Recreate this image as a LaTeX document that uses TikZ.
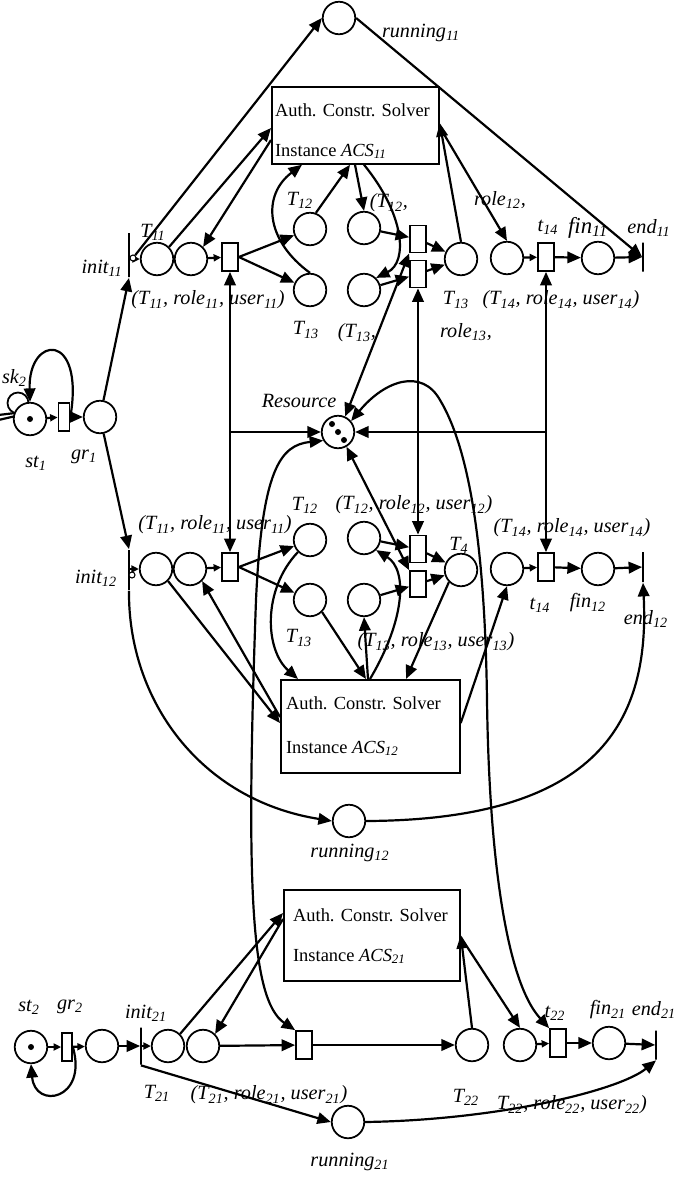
\documentclass[tikz,border=0pt]{standalone}
\usepackage{fontspec}
\setmainfont{Liberation Serif}
\usepackage{tikz}
\usetikzlibrary{
  calc,          % offsets along the solver boxes
  arrows.meta    % Triangle tips
}
\newcommand{\sbs}[1]{\textsubscript{#1}}

\begin{document}
\begin{tikzpicture}[x=0.02cm, y=-0.02cm, line width=1.25pt,
    >={Triangle[length=0.27cm,width=0.23cm]},
    plc/.style={circle, draw, fill=white, line width=1pt, minimum size=0.65cm, inner sep=0pt},
    trn/.style={rectangle, draw, fill=white, line width=1pt, minimum width=0.32cm, minimum height=0.56cm, inner sep=0pt},
    gate/.style={rectangle, draw, line width=1pt, minimum width=0pt, inner sep=0pt},
    tokn/.style={circle, fill=black, minimum size=0.12cm, inner sep=0pt},
    inh/.style={circle, draw, fill=white, line width=0.6pt, minimum size=0.12cm, inner sep=0pt},
    acs/.style={rectangle, draw, line width=1pt, anchor=north west, inner sep=0pt},
    acstxt/.style={anchor=base west, inner sep=0pt, font=\fontsize{10.5}{12}\selectfont},
    lab/.style={inner sep=0pt, font=\fontsize{11.5}{13}\selectfont\itshape},
    arr/.style={->},
    sarr/.style={-{Triangle[length=0.15cm,width=0.14cm]}},
    barr/.style={<->}]
  \useasboundingbox (0,0) rectangle (694,1177);
  \clip (0,0) rectangle (694,1177);

  % solver boxes
  \node[acs, minimum width=3.34cm, minimum height=1.54cm] (acs11) at (271,86) {};
  \node[acstxt] (acs11a) at (274,116) {Auth. Constr. Solver};
  \node[acstxt] (acs11b) at (274,156) {Instance \textit{ACS}\sbs{\textit{11}}};
  \node[acs, minimum width=3.58cm, minimum height=1.86cm] (acs12) at (280,679) {};
  \node[acstxt] (acs12a) at (285,709) {Auth. Constr. Solver};
  \node[acstxt] (acs12b) at (285,753) {Instance \textit{ACS}\sbs{\textit{12}}};
  \node[acs, minimum width=3.52cm, minimum height=1.82cm] (acs21) at (283,889) {};
  \node[acstxt] (acs21a) at (292,921) {Auth. Constr. Solver};
  \node[acstxt] (acs21b) at (292,961) {Instance \textit{ACS}\sbs{\textit{21}}};

  % start of case 1
  \coordinate (offa) at (-10,416);
  \coordinate (offb) at (-10,422);
  \node[plc, minimum size=0.42cm] (tk2) at (18,403) {};
  \node[plc] (st1) at (30,419) {};
  \node[tokn] (st1k) at (30,419) {};
  \node[trn, minimum width=0.22cm] (gr1t) at (64,417) {};
  \node[plc] (gr1p) at (100,417) {};

  % instance 11
  \node[plc] (run11) at (339,18) {};
  \node[gate, minimum height=0.88cm] (init11) at (129,255) {};
  \node[plc] (p11a) at (157,259) {};
  \node[plc] (p11b) at (191,259) {};
  \node[trn] (tr11) at (230,257) {};
  \node[plc] (t12p) at (310,229) {};
  \node[plc] (t13p) at (310,290) {};
  \node[plc] (q12) at (364,228) {};
  \node[plc] (q13) at (364,290) {};
  \node[trn, minimum height=0.54cm] (u12) at (418,239) {};
  \node[trn, minimum height=0.54cm] (u13) at (418,274) {};
  \node[plc] (r13) at (461,259) {};
  \node[plc] (p14) at (507,258) {};
  \node[trn] (t14) at (546,257) {};
  \node[plc] (fin11) at (598,258) {};
  \node[gate, minimum height=0.58cm] (end11) at (643,257) {};

  % shared resource
  \node[plc] (res) at (338,432) {};
  \node[tokn] (rk1) at (332,424) {};
  \node[tokn] (rk2) at (338,432) {};
  \node[tokn] (rk3) at (344,440) {};

  % instance 12
  \node[gate, minimum height=0.8cm] (init12) at (129,570) {};
  \node[plc] (p12a) at (156,569) {};
  \node[plc] (p12b) at (190,569) {};
  \node[trn] (tr12) at (230,567) {};
  \node[plc] (t12q) at (310,540) {};
  \node[plc] (t13q) at (310,600) {};
  \node[plc] (q12b) at (364,538) {};
  \node[plc] (q13b) at (364,600) {};
  \node[trn, minimum height=0.54cm] (v12) at (418,549) {};
  \node[trn, minimum height=0.52cm] (v13) at (418,584) {};
  \node[plc] (r14) at (461,570) {};
  \node[plc] (p14b) at (507,569) {};
  \node[trn] (t14b) at (546,567) {};
  \node[plc] (fin12) at (598,569) {};
  \node[gate, minimum height=0.6cm] (end12) at (643,567) {};
  \node[plc] (run12) at (349,821) {};

  % instance 21
  \node[plc] (st2) at (31,1047) {};
  \node[tokn] (st2k) at (31,1047) {};
  \node[trn, minimum width=0.2cm] (gr2t) at (67,1047) {};
  \node[plc] (gr2p) at (102,1046) {};
  \node[gate, minimum height=0.74cm] (init21) at (141,1046) {};
  \node[plc] (p21a) at (168,1046) {};
  \node[plc] (p21b) at (203,1046) {};
  \node[trn] (tr21) at (304,1045) {};
  \node[plc] (t22p) at (472,1045) {};
  \node[plc] (p22a) at (520,1045) {};
  \node[trn] (t22) at (558,1043) {};
  \node[plc] (fin21) at (609,1043) {};
  \node[gate, minimum height=0.58cm] (end21) at (656,1045) {};
  \node[plc] (run21) at (348,1122) {};

  % arcs, case 1
  \draw (offa) -- (st1.160);
  \draw (offb) -- (st1.172);
  \draw[sarr] (st1) -- (gr1t);
  \draw[arr] (gr1t) -- (gr1p);
  \draw[arr] (gr1t.east) .. controls (85,330) and (28,335) .. (st1.north);
  \draw[arr] (gr1p) -- (init11.south);
  \draw[arr] (gr1p) -- (init12.north);

  \draw[sarr] (init11 |- p11a) -- (p11a.west);
  \node[inh] (ic11) at (133,258) {};
  \draw[arr] (ic11) -- (run11.west);
  \draw[arr] (run11.east) -- (end11.west);
  \draw[arr] (p11a.north east) -- ($(acs11.north west)+(0,42)$);
  \draw[arr] ($(acs11.north west)+(0,54)$) -- (p11b.north east);
  \draw[sarr] (p11b) -- (tr11);
  \draw[arr] (tr11.east) -- (t12p);
  \draw[arr] (tr11.east) -- (t13p);
  \draw[arr] (t12p.70) -- ($(acs11.south west)+(79,0)$);
  \draw[arr] (t13p.north) .. controls (265,240) and (262,195) .. ($(acs11.south west)+(31,0)$);
  \draw[arr] ($(acs11.south west)+(84,0)$) -- (q12.north);
  \draw[arr] ($(acs11.south west)+(93,0)$) .. controls (405,215) and (408,262) .. (q13.north east);
  \draw[arr] (q12) -- (u12);
  \draw[arr] (q13) -- (u13);
  \draw[arr] (u12) -- (r13);
  \draw[arr] (u13) -- (r13);
  \draw[arr] (r13.north) -- ($(acs11.north east)+(0,37)$);
  \draw[arr] ($(acs11.north east)+(0,41)$) -- (p14.north);
  \draw[sarr] (p14) -- (t14);
  \draw[arr] (t14) -- (fin11);
  \draw[arr] (fin11) -- (end11);

  % resource arcs
  \draw[barr] (tr11.south) -- (tr12.north);
  \draw[arr] (tr11.south |- res.west) -- (res.west);
  \draw[barr] (u13.south) -- (v12.north);
  \draw[barr] (t14.south) -- (t14b.north);
  \draw[arr] (t14.south |- res.east) -- (res.east);
  \draw[barr] (res.65) -- (u12.south west);
  \draw[barr] (res.-60) -- (v13.north west);
  \draw[barr] (res.210) .. controls (280,445) and (262,470) .. (256,600) .. controls (246,880) and (250,1000) .. (tr21.north west);
  \draw[barr] (res.40) .. controls (385,380) and (422,368) .. (440,400) .. controls (470,450) and (485,550) .. (487,700) .. controls (489,850) and (505,980) .. (t22.north west);

  % arcs, instance 12
  \draw[sarr] (init12 |- p12a) -- (p12a.west);
  \node[inh] (ic12) at (132,575) {};
  \draw[arr] (p12a.south east) -- ($(acs12.north west)+(0,44)$);
  \draw[arr] ($(acs12.north west)+(0,38)$) -- (p12b.south east);
  \draw[sarr] (p12b) -- (tr12);
  \draw[arr] (tr12.east) -- (t12q);
  \draw[arr] (tr12.east) -- (t13q);
  \draw[arr] (t12q.south west) .. controls (262,590) and (265,650) .. ($(acs12.north west)+(18,0)$);
  \draw[arr] (t13q.south east) -- ($(acs12.north west)+(86,0)$);
  \draw[arr] ($(acs12.north west)+(88,0)$) -- (q13b.south);
  \draw[arr] ($(acs12.north west)+(90,0)$) .. controls (405,620) and (408,570) .. (q12b.south east);
  \draw[arr] (q12b) -- (v12);
  \draw[arr] (q13b) -- (v13);
  \draw[arr] (v12) -- (r14);
  \draw[arr] (v13) -- (r14);
  \draw[arr] (r14.south west) -- ($(acs12.north west)+(126,0)$);
  \draw[arr] ($(acs12.north east)+(0,44)$) -- (p14b.south);
  \draw[sarr] (p14b) -- (t14b);
  \draw[arr] (t14b) -- (fin12);
  \draw[arr] (fin12) -- (end12);
  \draw[arr] (init12.south) .. controls (128,700) and (200,800) .. (run12.west);
  \draw[arr] (run12.east) .. controls (600,820) and (650,720) .. (end12.south);

  % arcs, instance 21
  \draw[sarr] (st2) -- (gr2t);
  \draw[sarr] (gr2t) -- (gr2p);
  \draw[arr] (gr2t.east) .. controls (88,1100) and (35,1110) .. (st2.south);
  \draw[arr] (gr2p) -- (init21);
  \draw[sarr] (init21) -- (p21a);
  \draw[arr] (p21a.north east) -- ($(acs21.north west)+(0,24)$);
  \draw[arr] ($(acs21.north west)+(0,30)$) -- (p21b.north east);
  \draw[arr] (p21b) -- (tr21);
  \draw[arr] (tr21) -- (t22p);
  \draw[arr] (t22p.north) -- ($(acs21.north east)+(0,46)$);
  \draw[arr] ($(acs21.north east)+(0,48)$) -- (p22a.north);
  \draw[sarr] (p22a) -- (t22);
  \draw[arr] (t22) -- (fin21);
  \draw[arr] (fin21) -- (end21);
  \draw[arr] (init21.south) -- (run21.west);
  \draw[arr] (run21.east) .. controls (500,1120) and (620,1090) .. (end21.south);

  % labels
  \node[lab] (lrun11) at (421,33) {running\sbs{11}};
  \node[lab] (lT11) at (153,232) {T\sbs{11}};
  \node[lab] (linit11) at (102,268) {init\sbs{11}};
  \node[lab] (lT12a) at (300,200) {T\sbs{12}};
  \node[lab] (lT12b) at (389,203) {(T\sbs{12},};
  \node[lab] (lT13a) at (306,330) {T\sbs{13}};
  \node[lab] (lT13b) at (357,333) {(T\sbs{13},};
  \node[lab] (lrole12) at (500,200) {role\sbs{12},};
  \node[lab] (lt14a) at (548,227) {t\sbs{14}};
  \node[lab, font=\fontsize{13}{15}\selectfont\itshape] (lfin11) at (588,228) {fin\sbs{11}};
  \node[lab] (lend11) at (649,228) {end\sbs{11}};
  \node[lab] (lu11a) at (208,300) {(T\sbs{11}, role\sbs{11}, user\sbs{11})};
  \node[lab] (lT13c) at (456,300) {T\sbs{13}};
  \node[lab] (lu14a) at (561,300) {(T\sbs{14}, role\sbs{14}, user\sbs{14})};
  \node[lab] (lrole13) at (466,332) {role\sbs{13},};
  \node[lab, anchor=west] (lsk2) at (1,378) {sk\sbs{2}};
  \node[lab] (lst1) at (36,463) {st\sbs{1}};
  \node[lab] (lgr1) at (84,457) {gr\sbs{1}};
  \node[lab] (lres) at (299,401) {Resource};
  \node[lab] (lu11b) at (215,525) {(T\sbs{11}, role\sbs{11}, user\sbs{11})};
  \node[lab] (lT12c) at (305,505) {T\sbs{12}};
  \node[lab] (lu12) at (414,505) {(T\sbs{12}, role\sbs{12}, user\sbs{12})};
  \node[lab] (lT4) at (459,545) {T\sbs{4}};
  \node[lab] (lu14b) at (572,528) {(T\sbs{14}, role\sbs{14}, user\sbs{14})};
  \node[lab] (linit12) at (96,578) {init\sbs{12}};
  \node[lab] (lT13d) at (299,638) {T\sbs{13}};
  \node[lab] (lu13) at (436,642) {(T\sbs{13}, role\sbs{13}, user\sbs{13})};
  \node[lab] (lt14b) at (540,605) {t\sbs{14}};
  \node[lab] (lfin12) at (588,603) {fin\sbs{12}};
  \node[lab] (lend12) at (646,619) {end\sbs{12}};
  \node[lab] (lrun12) at (350,853) {running\sbs{12}};
  \node[lab] (lst2) at (29,1007) {st\sbs{2}};
  \node[lab] (lgr2) at (70,1007) {gr\sbs{2}};
  \node[lab] (linit21) at (146,1013) {init\sbs{21}};
  \node[lab] (lT21) at (157,1093) {T\sbs{21}};
  \node[lab] (lu21) at (269,1095) {(T\sbs{21}, role\sbs{21}, user\sbs{21})};
  \node[lab] (lT22) at (466,1097) {T\sbs{22}};
  \node[lab] (lu22) at (572,1105) {T\sbs{22}, role\sbs{22}, user\sbs{22})};
  \node[lab] (lt22) at (555,1013) {t\sbs{22}};
  \node[lab] (lfin21) at (608,1010) {fin\sbs{21}};
  \node[lab] (lend21) at (654,1010) {end\sbs{21}};
  \node[lab] (lrun21) at (350,1162) {running\sbs{21}};
\end{tikzpicture}
\end{document}
